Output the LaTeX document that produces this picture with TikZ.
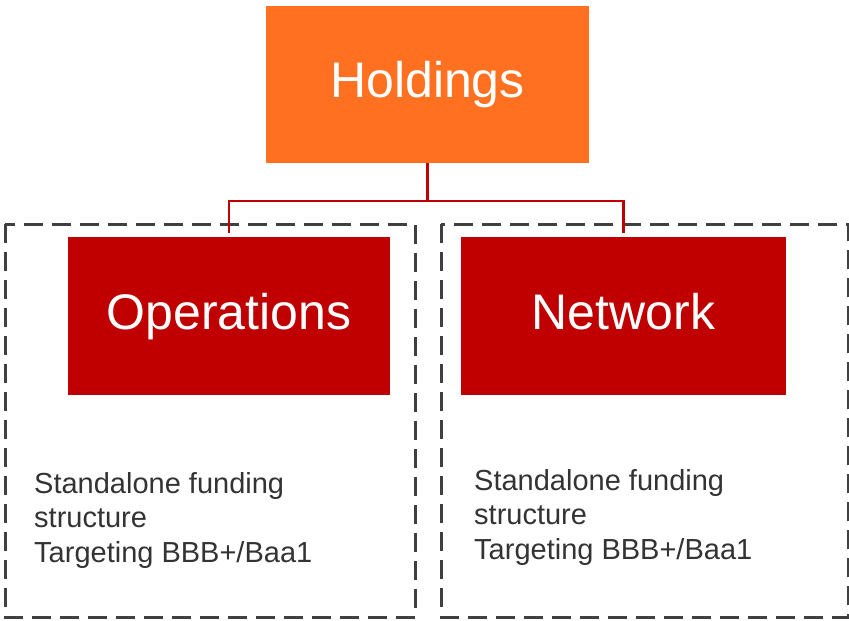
\documentclass[tikz,border=0pt]{standalone}
\usepackage{fontspec}
\setmainfont{Liberation Sans}
\usetikzlibrary{calc}

\definecolor{holdorange}{HTML}{FF7020}
\definecolor{subred}{HTML}{C00000}
\definecolor{boxgrey}{HTML}{404040}

\tikzset{
  unitbox/.style={draw=none,text=white,inner sep=0pt,text height=37pt,text depth=11pt,font=\fontsize{50}{58}\selectfont},
  conn/.style={draw=subred,line width=2.8pt},
  groupbox/.style={draw=boxgrey,line width=3pt,dash pattern=on 19pt off 9pt},
  note/.style={anchor=north west,inner sep=0pt,align=left,text=boxgrey!80!black,font=\fontsize{29}{34.5}\selectfont}
}

\begin{document}
\begin{tikzpicture}[x=1pt,y=-1pt]
\useasboundingbox (0,0) rectangle (849,621);
\draw[groupbox] (5,224) rectangle (415,617);
\draw[groupbox] (441,224) rectangle (848,617);
\node[unitbox,fill=holdorange,minimum width=323pt,minimum height=157pt] (hold) at (427.5,84.5) {Holdings};
\node[unitbox,fill=subred,minimum width=322pt,minimum height=158pt] (ops) at (229,316) {Operations};
\node[unitbox,fill=subred,minimum width=325pt,minimum height=158pt] (net) at (623.5,316) {Network};
\coordinate (split) at (hold.south |- 0,201);
\draw[conn] (hold.south) -- (split);
\draw[conn] ([yshift=4pt]ops.north) |- (split) -| ([yshift=4pt]net.north);
\node[note] (opsnote) at (34,472) {Standalone funding\\structure\\Targeting BBB+/Baa1};
\node[note] (netnote) at (474,469) {Standalone funding\\structure\\Targeting BBB+/Baa1};
\end{tikzpicture}
\end{document}
